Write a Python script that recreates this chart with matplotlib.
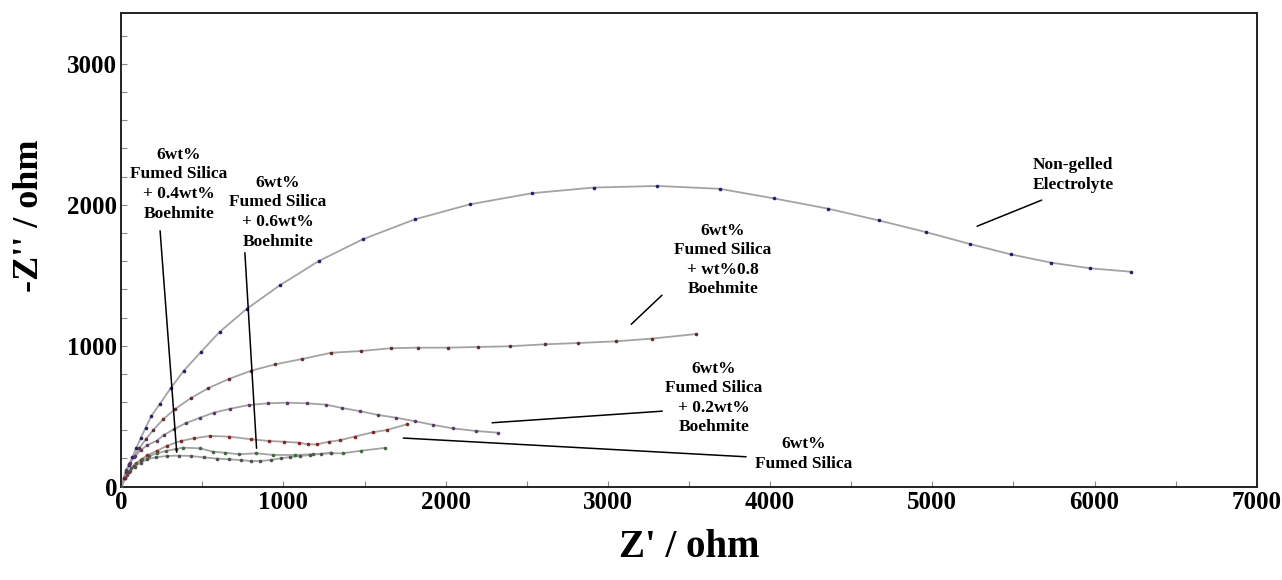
import matplotlib
matplotlib.use('Agg')
import matplotlib.pyplot as plt
from matplotlib.ticker import MultipleLocator

plt.rcParams['font.family'] = ['Liberation Serif', 'DejaVu Serif']
plt.rcParams['font.weight'] = 'bold'

# Nyquist data (Z' , -Z''), ohm
ng_x = [0, 17, 33, 47, 68, 92, 119, 150, 185, 236, 304, 386, 489, 607, 772, 977, 1218, 1489,
        1809, 2150, 2534, 2915, 3305, 3689, 4023, 4357, 4669, 4960, 5233, 5483, 5732, 5972, 6222]
ng_y = [0, 62, 106, 154, 208, 272, 343, 418, 501, 584, 698, 823, 953, 1099, 1260, 1428, 1601, 1755,
        1896, 2003, 2082, 2122, 2133, 2113, 2045, 1972, 1889, 1806, 1721, 1648, 1589, 1549, 1525]

b08_x = [0, 20, 29, 49, 78, 111, 152, 197, 258, 330, 427, 535, 663, 802, 950, 1116, 1295, 1475,
         1660, 1828, 2012, 2197, 2396, 2614, 2818, 3049, 3270, 3545]
b08_y = [0, 60, 106, 161, 213, 272, 338, 402, 478, 549, 627, 698, 764, 823, 868, 906, 950, 962,
         982, 986, 986, 991, 996, 1010, 1019, 1031, 1050, 1083]

b02_x = [0, 30, 55, 85, 120, 160, 218, 263, 324, 396, 484, 571, 673, 785, 903, 1021, 1145, 1260,
         1362, 1473, 1582, 1695, 1812, 1924, 2043, 2187, 2320]
b02_y = [0, 120, 170, 215, 260, 295, 326, 367, 407, 450, 489, 525, 553, 579, 591, 596, 591, 582,
         558, 535, 509, 489, 464, 438, 414, 395, 383]

b06_x = [0, 25, 47, 78, 119, 160, 222, 283, 366, 447, 546, 665, 802, 911, 1001, 1095, 1151, 1206,
         1280, 1346, 1438, 1551, 1637, 1762]
b06_y = [0, 60, 106, 147, 189, 223, 255, 291, 324, 343, 360, 355, 336, 324, 319, 312, 300, 300,
         319, 329, 355, 386, 402, 443]

b04_x = [0, 33, 58, 88, 129, 170, 222, 273, 335, 382, 484, 567, 638, 726, 833, 935, 1069, 1182,
         1295, 1366, 1479, 1624]
b04_y = [0, 90, 130, 166, 194, 218, 237, 253, 267, 277, 272, 248, 241, 230, 237, 225, 225, 230,
         237, 237, 255, 275]

fs_x = [0, 33, 54, 83, 119, 160, 212, 283, 356, 427, 509, 591, 663, 735, 797, 858, 920, 982,
        1038, 1104, 1166, 1230, 1290]
fs_y = [0, 80, 113, 142, 170, 194, 208, 218, 220, 218, 208, 199, 194, 189, 182, 182, 189, 201,
        210, 218, 225, 232, 242]

series = [
    (ng_x, ng_y, '#1c1c8a'),
    (b08_x, b08_y, '#6a2b2b'),
    (b02_x, b02_y, '#5a3868'),
    (b06_x, b06_y, '#9a1a1a'),
    (b04_x, b04_y, '#3f6a3f'),
    (fs_x, fs_y, '#505050'),
]

fig = plt.figure(figsize=(12.82, 5.8), dpi=100)
ax = fig.add_axes([0.0946, 0.1609, 0.8857, 0.8167])

for xs, ys, c in series:
    ax.plot(xs, ys, '-', color='#a3a3a3', lw=1.3, zorder=2)
    ax.plot(xs, ys, 'o', color=c, ms=2.6, mec='none', zorder=3)

ax.set_xlim(0, 7000)
ax.set_ylim(0, 3360)
ax.xaxis.set_major_locator(MultipleLocator(1000))
ax.xaxis.set_minor_locator(MultipleLocator(500))
ax.yaxis.set_major_locator(MultipleLocator(1000))
ax.yaxis.set_minor_locator(MultipleLocator(200))
ax.tick_params(which='both', direction='in', length=4, width=0.8, color='#888888',
               top=False, right=False)
ax.tick_params(which='major', labelsize=18, pad=3)
for s in ax.spines.values():
    s.set_color('#222222')
    s.set_linewidth(1.4)

ax.set_xlabel("Z' / ohm", fontsize=28, fontweight='bold', labelpad=11)
ax.set_ylabel("-Z'' / ohm", fontsize=26, fontweight='bold')
ax.yaxis.set_label_coords(-0.066, 0.571)

ann = dict(fontsize=12.5, fontweight='bold', ha='center', va='center', linespacing=1.3)
line = dict(arrowstyle='-', color='black', lw=1.1)

ax.text(355, 2145, '6wt%\nFumed Silica\n+ 0.4wt%\nBoehmite', **ann)
ax.annotate('', xy=(343, 225), xytext=(238, 1835), arrowprops=line)

ax.text(965, 1947, '6wt%\nFumed Silica\n+ 0.6wt%\nBoehmite', **ann)
ax.annotate('', xy=(835, 253), xytext=(761, 1679), arrowprops=line)

ax.text(5869, 2209, 'Non-gelled\nElectrolyte', **ann)
ax.annotate('', xy=(5260, 1840), xytext=(5690, 2040), arrowprops=line)

ax.text(3709, 1608, '6wt%\nFumed Silica\n+ wt%0.8\nBoehmite', **ann)
ax.annotate('', xy=(3131, 1138), xytext=(3346, 1372), arrowprops=line)

ax.text(3654, 629, '6wt%\nFumed Silica\n+ 0.2wt%\nBoehmite', **ann)
ax.annotate('', xy=(2269, 452), xytext=(3352, 537), arrowprops=line)

ax.text(4208, 232, '6wt%\nFumed Silica', **ann)
ax.annotate('', xy=(1722, 346), xytext=(3869, 211), arrowprops=line)

fig.savefig('out.png', dpi=100)
